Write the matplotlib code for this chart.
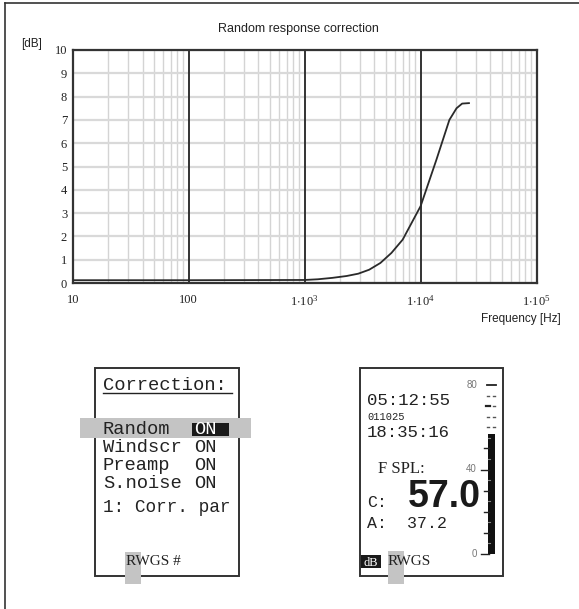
"""Random response correction chart with the two instrument display panels."""

import matplotlib

matplotlib.use("Agg")
import matplotlib.pyplot as plt
from matplotlib.patches import Rectangle
from matplotlib.ticker import FixedLocator, FixedFormatter, LogLocator, NullFormatter

plt.rcParams["mathtext.fontset"] = "custom"
plt.rcParams["mathtext.rm"] = "Liberation Serif"

# correction curve
FREQ_HZ = [10, 100, 1000, 1300, 1730, 2300, 2900, 3600, 4500, 5600, 7000,
           10000, 13700, 17700, 20400, 22800, 26100]
CORR_DB = [0.12, 0.12, 0.13, 0.16, 0.22, 0.3, 0.4, 0.57, 0.86, 1.29, 1.86,
           3.3, 5.3, 7.0, 7.5, 7.7, 7.72]

X_TICKS = [10, 100, 1e3, 1e4, 1e5]
X_TICK_LABELS = ["10", "100", r"$\mathregular{1{\cdot}10^{3}}$",
                 r"$\mathregular{1{\cdot}10^{4}}$", r"$\mathregular{1{\cdot}10^{5}}$"]
Y_TICKS = list(range(0, 11))

# left display
CORR_ITEMS = ["Random", "Windscr", "Preamp", "S.noise"]
CORR_STATES = ["ON", "ON", "ON", "ON"]

# right display
METER_LEVEL = 57.0
A_LEVEL = 37.2
METER_TICKS = [0, 10, 20, 30, 40, 50, 60, 70, 80]
METER_LABELS = {0: "0", 40: "40", 80: "80"}
PEAK_MARKS = [60, 65, 70, 75]

DARK = "#333333"
INK = "#222222"
MONO = "Liberation Mono"
SERIF = "Liberation Serif"
SANS = "Liberation Sans"

fig = plt.figure(figsize=(5.79, 6.09), dpi=100)
W, H = 579, 609

# ---- chart ----
ax = fig.add_axes([72.7 / W, 1 - 283 / H, (536.6 - 72.7) / W, (283 - 50) / H])
ax.set_xscale("log")
ax.set_xlim(10, 1e5)
ax.set_ylim(0, 10)
ax.plot(FREQ_HZ, CORR_DB, color="#2a2a2a", lw=1.3, zorder=5)

ax.xaxis.set_major_locator(FixedLocator(X_TICKS))
ax.xaxis.set_major_formatter(FixedFormatter(X_TICK_LABELS))
ax.xaxis.set_minor_locator(LogLocator(base=10, subs=range(2, 10)))
ax.xaxis.set_minor_formatter(NullFormatter())
ax.set_yticks(Y_TICKS)
ax.grid(which="minor", axis="x", color="#d4d4d4", lw=1.0)
ax.grid(which="major", axis="y", color="#d9d9d9", lw=1.6)
for f in X_TICKS[1:-1]:
    ax.axvline(f, color=DARK, lw=1.4, zorder=3)
ax.tick_params(which="both", length=0, labelsize=9, labelfontfamily=SERIF, labelcolor=INK)
ax.tick_params(axis="x", pad=8)
ax.tick_params(axis="y", pad=4)
for sp in ax.spines.values():
    sp.set_color(DARK)
    sp.set_linewidth(1.6)

# ---- overlay in pixel coords for texts and displays ----
ov = fig.add_axes([0, 0, 1, 1], zorder=-1)
ov.set_xlim(0, W)
ov.set_ylim(H, 0)
ov.axis("off")

ov.plot([5, 5], [2.5, H], color=DARK, lw=1.2)
ov.plot([5, W], [2.5, 2.5], color=DARK, lw=1.2)

txt = fig.add_axes([0, 0, 1, 1], zorder=10)
txt.set_xlim(0, W)
txt.set_ylim(H, 0)
txt.axis("off")

txt.text(298, 29, "Random response correction", family=SANS, fontsize=9,
         ha="center", va="center", color=INK)
txt.text(32, 44, "[dB]", family=SANS, fontsize=8.5, ha="center", va="center", color=INK)
txt.text(561, 319, "Frequency [Hz]", family=SANS, fontsize=8.5, ha="right", va="center",
         color=INK)

GREY = "#c4c4c4"

# left display
ov.add_patch(Rectangle((95, 368), 144, 208, fill=False, ec=DARK, lw=1.4))
txt.add_patch(Rectangle((80, 418), 171, 20, color=GREY, lw=0, zorder=0))
txt.add_patch(Rectangle((125, 552), 16, 32, color=GREY, lw=0, zorder=0))
txt.text(103, 390, "Correction:", family=MONO, fontsize=13.5, color=INK, va="baseline")
txt.plot([103, 232], [393, 393], color=INK, lw=1.0)
row_y = [434, 452, 470, 488]
for i, (name, state) in enumerate(zip(CORR_ITEMS, CORR_STATES)):
    txt.text(103, row_y[i], name, family=MONO, fontsize=13.5, color=INK, va="baseline")
    col = "white" if i == 0 else INK
    if i == 0:
        txt.add_patch(Rectangle((192, 423), 37, 13, color="#1a1a1a", lw=0))
    txt.text(194, row_y[i], state, family=MONO, fontsize=13.5, color=col, va="baseline")
txt.text(103, 512, "1: Corr. par", family=MONO, fontsize=12.8, color=INK, va="baseline")
txt.text(126, 565, "RWGS #", family=SERIF, fontsize=11, color=INK, va="baseline")

# right display
ov.add_patch(Rectangle((360, 368), 143, 208, fill=False, ec=DARK, lw=1.4))
txt.add_patch(Rectangle((388, 551), 16, 33, color=GREY, lw=0, zorder=0))
txt.text(367, 405, "05:12:55", family=MONO, fontsize=12.5, color=INK, va="baseline")
txt.text(367, 420, "011025", family=MONO, fontsize=7.5, color=INK, va="baseline")
txt.text(367, 437, "18:35:16", family=MONO, fontsize=12.5, color=INK, va="baseline")
txt.text(378, 473, "F SPL:", family=SERIF, fontsize=12, color=INK, va="baseline")
txt.text(367, 507, "C:", family=MONO, fontsize=12, color=INK, va="baseline")
txt.text(481, 507, f"{METER_LEVEL:.1f}", family=SANS, fontsize=27, weight="bold",
         color="#1a1a1a", va="baseline", ha="right")
txt.text(367, 528, f"A:  {A_LEVEL:.1f}", family=MONO, fontsize=12, color=INK,
         va="baseline")
txt.add_patch(Rectangle((361, 555), 20, 12.5, color="#1a1a1a", lw=0))
txt.text(371, 565.5, "dB", family=SERIF, fontsize=9, color="white", va="baseline", ha="center")
txt.text(388, 565, "RWGS", family=SERIF, fontsize=11, color=INK, va="baseline")


def meter_y(v):
    return 554 - v * (554 - 385) / 80


txt.add_patch(Rectangle((488, meter_y(METER_LEVEL)), 7, meter_y(0) - meter_y(METER_LEVEL),
                        color="#111111", lw=0))
for t in METER_TICKS:
    y = meter_y(t)
    if t == 80:
        txt.plot([487, 496], [y, y], color=INK, lw=1.3)
    elif t < METER_LEVEL:
        x0 = 481 if t in METER_LABELS else 484
        txt.plot([x0, 489], [y, y], color=INK, lw=1.0)
    if t in METER_LABELS:
        txt.text(477, y, METER_LABELS[t], family=SANS, fontsize=7, color="#777777",
                 ha="right", va="center")
for t in range(5, int(METER_LEVEL), 10):
    y = meter_y(t)
    txt.plot([488, 490], [y, y], color="#888888", lw=0.8)
for t in PEAK_MARKS:
    y = meter_y(t)
    if t == 70:
        txt.plot([486, 490], [y, y], color=INK, lw=1.6)
    else:
        txt.plot([487, 488.5], [y, y], color="#555555", lw=1.0)
    txt.plot([493, 494.5], [y, y], color="#555555", lw=1.0)

fig.savefig("out.png", dpi=100)
